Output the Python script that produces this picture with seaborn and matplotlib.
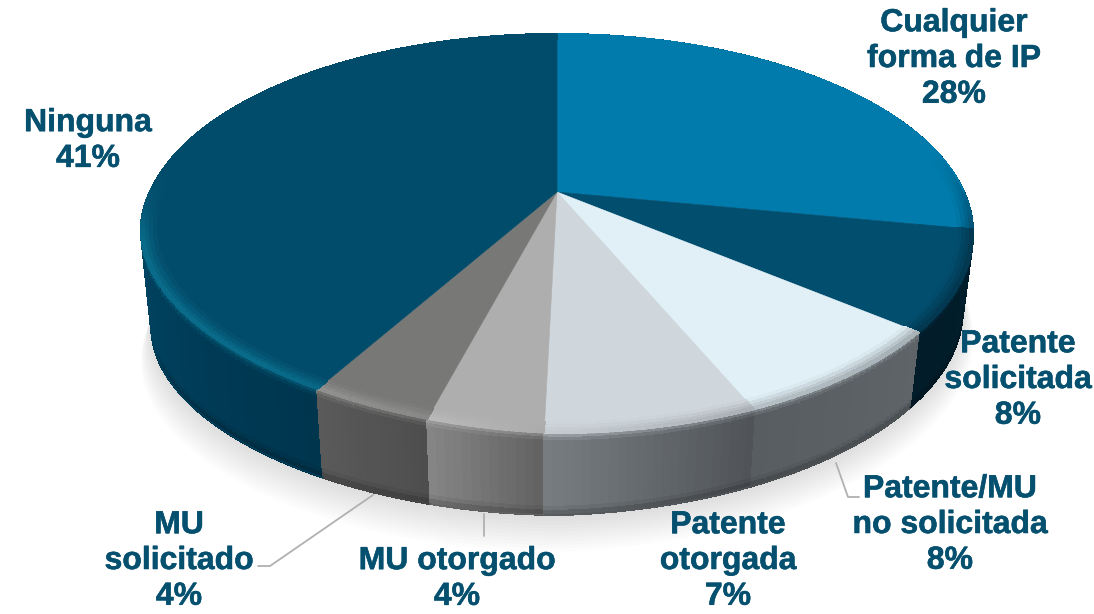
"""3D style pie of IP protection shares, drawn from the slice values."""
import matplotlib
matplotlib.use("Agg")
import matplotlib.patheffects as pe
import matplotlib.pyplot as plt
from matplotlib.collections import PolyCollection
import numpy as np
import seaborn as sns

# -- Data ----------------------------------------------------------------------
# underlying slice sizes, read off the angles (labels below are the rounded ones)
SLICE_VALUES = [28.0, 8.0, 7.6, 6.8, 3.7, 3.9, 42.0]
SLICE_LABELS = [
    "Cualquier\nforma de IP\n28%",
    "Patente\nsolicitada\n8%",
    "Patente/MU\nno solicitada\n8%",
    "Patente\notorgada\n7%",
    "MU otorgado\n4%",
    "MU\nsolicitado\n4%",
    "Ninguna\n41%",
]

# -- Styles --------------------------------------------------------------------
FACE_COLORS = ["#007bac", "#024e6f", "#e1f0f7", "#cfd7dd", "#aeaeae", "#787976", "#024c6b"]
WALL_COLORS = [
    ["#02334a", "#021e2c"],
    ["#021e2c", "#021c29"],
    ["#5e6468", "#585d61"],
    ["#505458", "#767c80"],
    ["#636363", "#858585"],
    ["#4e4e4e", "#5a5a5a"],
    ["#00354e", "#004d6e", "#004d6e"],
]
TEXT_COLOR = "#05506f"
LEADER_COLOR = "#b2b0b0"

# label centres in pixels, same order as the labels
LABEL_POS = [(954, 59), (1018, 380), (950, 525), (728, 561), (457, 579), (179, 561), (88, 141)]
LEADERS = [
    ([258, 270, 373], [566, 566, 495]),
    ([484, 484], [514, 536]),
    ([836, 848, 859], [463, 497, 497]),
]

# projection of the disc: apex, perspective and extents
APEX_X, APEX_Y = 557, 192
PERSP = 0.208
SCALE_X, SCALE_Y = 407, 190.9
DEPTH, SHEAR, SHRINK = 88, 0.025, 0.025
BEVEL_R = 0.965
LEFT_LIFT = 9  # the near left rim sits a little higher than a true ellipse

sns.set_theme(style="white")
plt.rcParams["font.family"] = ["Liberation Sans", "DejaVu Sans"]


def project(r, theta, z=0.0):
    x = r * np.sin(theta)
    y = r * np.cos(theta)
    den = 1 + PERSP * y
    s = 1 - SHRINK * z
    px = s * SCALE_X * x / den
    py = -s * SCALE_Y * y / den
    lift = LEFT_LIFT * 2 * np.clip(-x, 0, None) * np.clip(-y, 0, None)
    return APEX_X + px, APEX_Y + py + z * (DEPTH - SHEAR * px) - lift


def rgb(c):
    return np.array(matplotlib.colors.to_rgb(c))


def side_quads(edges):
    """Wall and bevel quads for every slice; edges holds the slice limits."""
    wall_q, wall_c, wall_d, top_q, top_c = [], [], [], [], []
    z_nodes = [0.0, 0.03, 0.06, 0.10, 0.9, 0.95, 1.0]
    r_nodes = [BEVEL_R, 0.975, 0.985, 0.993, 1.0]
    for i, (t0, t1) in enumerate(zip(edges[:-1], edges[1:])):
        n = max(int(np.degrees(t1 - t0)), 6)
        thetas = np.linspace(t0, t1, n + 1)
        pal = sns.blend_palette(WALL_COLORS[i], n_colors=n, as_cmap=False)
        face = rgb(FACE_COLORS[i])
        for k in range(n):
            a, b = thetas[k], thetas[k + 1]
            mid = (a + b) / 2
            x, y = np.sin(mid), np.cos(mid)
            wall = np.array(pal[k])
            h = np.clip(0.45 - 0.75 * x - 0.1 * y, 0, 1) * np.clip(-y * 2.5 + 0.3, 0, 1)
            hi = (1 - h) * (face + wall) / 2 + h * face ** 0.68
            fade = np.clip((0.2 - y) / 0.4, 0, 1)

            # upper part of the wall: highlight sinks into the wall colour
            for j in range(len(z_nodes) - 1):
                z0, z1 = z_nodes[j], z_nodes[j + 1]
                zm = (z0 + z1) / 2
                if zm < 0.1:
                    col = hi + (wall - hi) * (0.25 + 0.75 * zm / 0.1)
                elif zm > 0.9:
                    col = wall * (1 - 2.5 * (zm - 0.9))
                else:
                    col = wall
                pts = [project(1, a, z0), project(1, b, z0), project(1, b, z1), project(1, a, z1)]
                wall_q.append(pts)
                wall_c.append(np.clip(col, 0, 1))
                wall_d.append(-y)

            # bevel on the top face
            for j in range(len(r_nodes) - 1):
                r0, r1 = r_nodes[j], r_nodes[j + 1]
                u = (j + 0.5) / (len(r_nodes) - 1)
                col = face + (hi - face) * u
                col = face + (col - face) * fade
                top_q.append([project(r0, a), project(r0, b), project(r1, b), project(r1, a)])
                top_c.append(np.clip(col, 0, 1))
    # back to front so the near wall wins at the silhouette
    order = np.argsort(wall_d, kind="stable")
    wall_q = [wall_q[o] for o in order]
    wall_c = [wall_c[o] for o in order]
    return wall_q, wall_c, top_q, top_c


def main():
    fig = plt.figure(figsize=(10.94, 6.14), dpi=100)
    ax = fig.add_axes([0, 0, 1, 1])
    ax.set_xlim(0, 1094)
    ax.set_ylim(614, 0)
    ax.axis("off")

    shares = np.array(SLICE_VALUES) / np.sum(SLICE_VALUES)
    edges = np.concatenate([[0], np.cumsum(shares)]) * 2 * np.pi

    # soft shadow under the disc
    ring = np.linspace(0, 2 * np.pi, 241)
    for k in range(12):
        gx, gy = project(1 + 0.003 * k, ring, 1 + 0.03 * k)
        ax.fill(gx, gy, color="black", alpha=0.011, lw=0, zorder=1)

    wall_q, wall_c, top_q, top_c = side_quads(edges)
    ax.add_collection(PolyCollection(wall_q, facecolors=wall_c, edgecolors=wall_c,
                                     linewidths=0.8, antialiaseds=False, zorder=2))

    # smooth silhouette over the aliased wall strips
    for i, (t0, t1) in enumerate(zip(edges[:-1], edges[1:])):
        thetas = np.linspace(t0, t1, 120)
        lx, ly = project(1, thetas, 1.0)
        dark = np.array(sns.blend_palette(WALL_COLORS[i], n_colors=3)[1]) * 0.85
        keep = np.cos(thetas) < 0.1
        if keep.any():
            ax.plot(lx[keep], ly[keep], color=dark, lw=0.9, zorder=2.5)

    for i, (t0, t1) in enumerate(zip(edges[:-1], edges[1:])):
        thetas = np.linspace(t0, t1, max(int(np.degrees(t1 - t0)), 6) + 1)
        px, py = project(BEVEL_R + 0.003, thetas)
        ax.fill(np.r_[APEX_X, px], np.r_[APEX_Y, py], color=FACE_COLORS[i], lw=0.4, zorder=3)

    ax.add_collection(PolyCollection(top_q, facecolors=top_c, edgecolors=top_c,
                                     linewidths=0.7, antialiaseds=False, zorder=4))

    # smooth rim on the back half, where the face meets the white background
    for i, (t0, t1) in enumerate(zip(edges[:-1], edges[1:])):
        thetas = np.linspace(t0, t1, 120)
        rx, ry = project(1, thetas)
        keep = np.cos(thetas) > 0.0
        if keep.any():
            ax.plot(rx[keep], ry[keep], color=FACE_COLORS[i], lw=0.9, zorder=4.5)

    for xs, ys in LEADERS:
        ax.plot(xs, ys, color=LEADER_COLOR, lw=1.3, zorder=5)

    for label, (x, y) in zip(SLICE_LABELS, LABEL_POS):
        ax.text(x, y, label, ha="center", va="center", multialignment="center",
                fontsize=23, fontweight="bold", color=TEXT_COLOR, linespacing=1.25, zorder=6,
                path_effects=[pe.withStroke(linewidth=0.4, foreground=TEXT_COLOR)])

    fig.savefig("out.png", dpi=100)
    plt.close(fig)


if __name__ == "__main__":
    main()
